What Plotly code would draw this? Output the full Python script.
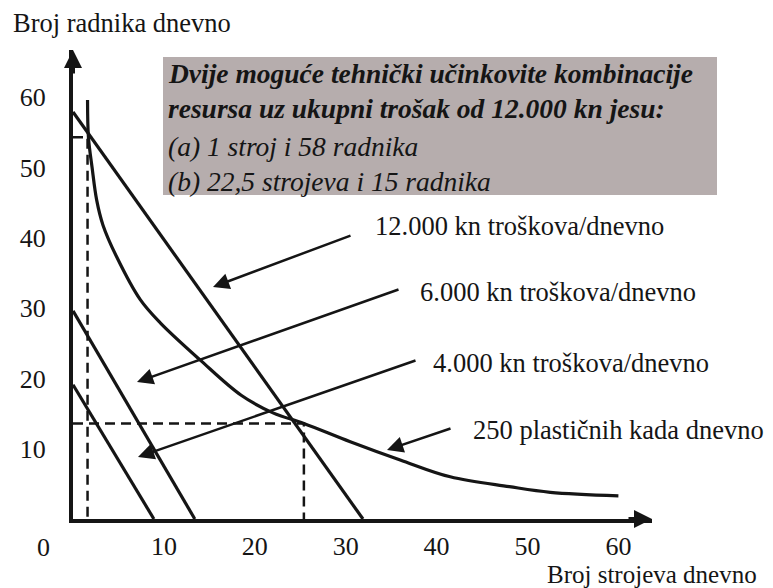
import plotly.graph_objects as go

# ---- data (machines per day on x, workers per day on y) ----
cost12000_machines = [0, 31.9]
cost12000_workers = [57.9, 0]
cost6000_machines = [0, 13.4]
cost6000_workers = [29.6, 0]
cost4000_machines = [0, 8.9]
cost4000_workers = [19.1, 0]

isoquant_machines = [1.6, 1.7, 2.1, 2.6, 3.3, 4.8, 7.4, 9.6, 14.0, 18.5, 22.0, 25.4, 30.5, 36.0, 41.5, 48.0, 52.5, 60.0]
isoquant_workers = [59.6, 54.3, 50.0, 45.4, 41.8, 37.3, 31.2, 27.9, 22.6, 17.6, 15.1, 13.6, 11.0, 8.4, 6.0, 4.6, 3.8, 3.3]

point_a = (1.6, 54.3)
point_b = (25.4, 13.6)

tick_values = [10, 20, 30, 40, 50, 60]
tick_labels = ["10", "20", "30", "40", "50", "60"]

box_lines = [
    "<b><i>Dvije moguće tehnički učinkovite kombinacije</i></b>",
    "<b><i>resursa uz ukupni trošak od 12.000 kn jesu:</i></b>",
    "<i>(a) 1 stroj i 58 radnika</i>",
    "<i>(b) 22,5 strojeva i 15 radnika</i>",
]
curve_labels = [
    "12.000 kn troškova/dnevno",
    "6.000 kn troškova/dnevno",
    "4.000 kn troškova/dnevno",
    "250 plastičnih kada dnevno",
]

# ---- layout geometry ----
W, H = 773, 588
L, R, T, B = 73, 121, 50, 69
PW, PH = W - L - R, H - T - B
XMAX, YMAX = PW / 9.09, PH / 7.03
FONT = "Liberation Serif"
INK = "#151515"


def paper(xp, yp):
    return (xp - L) / PW, (H - B - yp) / PH


def data(xp, yp):
    return (xp - L) / 9.09, (H - B - yp) / 7.03


fig = go.Figure()

line_style = dict(color=INK, width=3.2)
for xs, ys in [(cost12000_machines, cost12000_workers),
               (cost6000_machines, cost6000_workers),
               (cost4000_machines, cost4000_workers)]:
    fig.add_trace(go.Scatter(x=xs, y=ys, mode="lines", line=line_style,
                             hoverinfo="skip", showlegend=False))

fig.add_trace(go.Scatter(x=isoquant_machines, y=isoquant_workers, mode="lines",
                         line=dict(color=INK, width=3.2, shape="spline", smoothing=1.0),
                         hoverinfo="skip", showlegend=False))

dash_style = dict(color=INK, width=2.5, dash="10px,6px")
for px_, py_ in [point_a, point_b]:
    fig.add_trace(go.Scatter(x=[0, px_, px_], y=[py_, py_, 0], mode="lines",
                             line=dash_style, hoverinfo="skip", showlegend=False))

annotations = []
# axis arrowheads
annotations.append(dict(x=1, y=0, xref="paper", yref="paper", ax=-25, ay=0,
                        showarrow=True, arrowhead=2, arrowsize=0.9, arrowwidth=4,
                        arrowcolor=INK, text=""))
annotations.append(dict(x=0, y=1, xref="paper", yref="paper", ax=0, ay=25,
                        showarrow=True, arrowhead=2, arrowsize=0.9, arrowwidth=4,
                        arrowcolor=INK, text=""))

# pointer arrows (tip, tail in pixel space of the reference)
pointers = [((213, 287), (352, 235)),
            ((137, 382), (400, 289)),
            ((138, 457), (417, 360)),
            ((387, 450), (452, 428))]
for (tx, ty), (sx, sy) in pointers:
    x, y = data(tx, ty)
    axx, ayy = data(sx, sy)
    annotations.append(dict(x=x, y=y, ax=axx, ay=ayy, xref="x", yref="y",
                            axref="x", ayref="y", showarrow=True, arrowhead=2,
                            arrowsize=1.3, arrowwidth=2.5, arrowcolor=INK, text=""))

# curve labels
label_pos = [(373, 226), (418, 292), (431, 363), (471, 430)]
for txt, (lx, ly) in zip(curve_labels, label_pos):
    x, y = paper(lx, ly)
    annotations.append(dict(x=x, y=y, xref="paper", yref="paper", text=txt,
                            showarrow=False, xanchor="left", yanchor="middle",
                            font=dict(family=FONT, size=26.5, color=INK)))

# box text
box_y = [73, 109, 146, 181]
for txt, by in zip(box_lines, box_y):
    x, y = paper(166, by)
    annotations.append(dict(x=x, y=y, xref="paper", yref="paper", text=txt,
                            showarrow=False, xanchor="left", yanchor="middle",
                            font=dict(family=FONT, size=27.5, color=INK)))

# axis titles and origin label
for txt, (lx, ly), anc, fs in [("Broj radnika dnevno", (11, 23), "left", 26.5),
                               ("Broj strojeva dnevno", (759, 574), "right", 25),
                               ("0", (43, 547), "center", 26)]:
    x, y = paper(lx, ly)
    annotations.append(dict(x=x, y=y, xref="paper", yref="paper", text=txt,
                            showarrow=False, xanchor=anc, yanchor="middle",
                            font=dict(family=FONT, size=fs, color=INK)))

bx0, by0 = paper(163, 195)
bx1, by1 = paper(717, 57)
fig.add_shape(type="rect", xref="paper", yref="paper", x0=bx0, y0=by0, x1=bx1, y1=by1,
              fillcolor="#b6adad", line=dict(width=0), layer="below")

axis_common = dict(showgrid=False, zeroline=False, showline=True, linewidth=4,
                   linecolor=INK, ticks="", tickvals=tick_values, ticktext=tick_labels,
                   tickfont=dict(family=FONT, size=26, color=INK), fixedrange=True)

fig.update_layout(
    width=W, height=H,
    margin=dict(l=L, r=R, t=T, b=B, pad=0),
    paper_bgcolor="white", plot_bgcolor="rgba(0,0,0,0)",
    xaxis=dict(range=[0, XMAX], ticklabelstandoff=1, **axis_common),
    yaxis=dict(range=[0, YMAX], ticklabelstandoff=18, **axis_common),
    annotations=annotations,
    showlegend=False,
)

fig.write_html("out.html", config={"displayModeBar": False},
               post_script="document.body.style.margin='0';document.body.style.overflow='hidden';")
